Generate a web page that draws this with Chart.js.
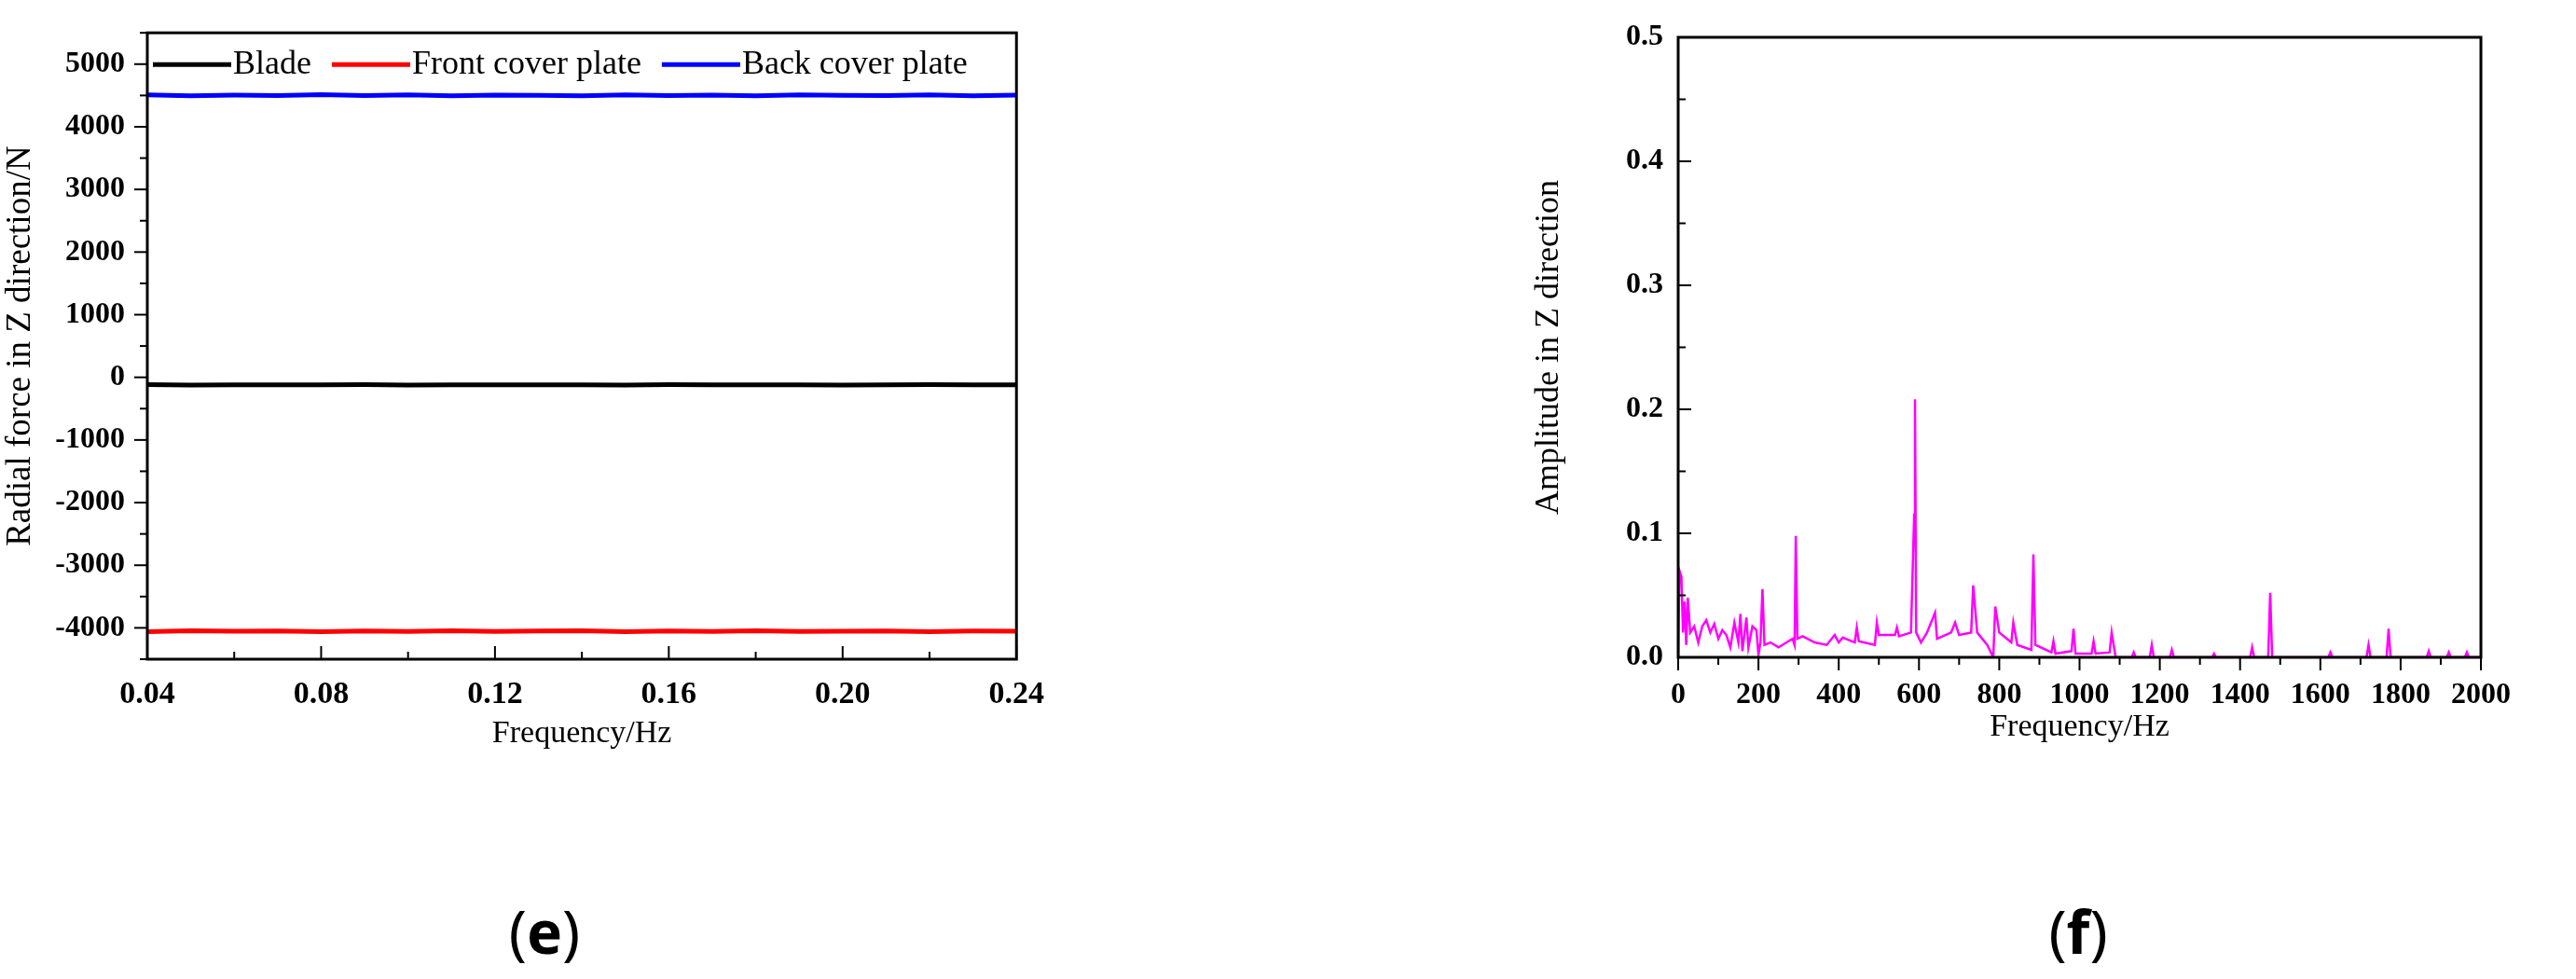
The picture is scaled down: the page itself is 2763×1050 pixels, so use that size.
<!DOCTYPE html>
<html>
<head>
<meta charset="utf-8">
<script src="https://cdn.jsdelivr.net/npm/chart.js@4.4.0/dist/chart.umd.min.js"></script>
<style>
  body { margin: 0; background: #fff; width: 2763px; height: 1050px; position: relative; overflow: hidden; }
  .box { position: absolute; }
  .tag { position: absolute; font-family: "Noto Sans", sans-serif; font-size: 64px; color: #000; transform: translateX(-50%); }
  .tag b { font-weight: 700; }
</style>
</head>
<body>
<div class="box" style="left:0;top:0;width:1130px;height:811px"><canvas id="forceChart"></canvas></div>
<div class="box" style="left:1640px;top:0;width:1100px;height:800px"><canvas id="ampChart"></canvas></div>
<div class="tag" style="left:584px;top:955px">(<b>e</b>)</div>
<div class="tag" style="left:2229px;top:955px">(<b>f</b>)</div>
<script>
// (e) radial force, time axis
const timeX = [0.04, 0.05, 0.06, 0.07, 0.08, 0.09, 0.10, 0.11, 0.12, 0.13, 0.14, 0.15, 0.16, 0.17, 0.18, 0.19, 0.20, 0.21, 0.22, 0.23, 0.24];
const bladeForce = [-118, -122, -120, -119, -121, -118, -122, -120, -121, -119, -120, -122, -118, -121, -120, -119, -122, -120, -118, -121, -120];
const frontForce = [-4060, -4045, -4055, -4050, -4062, -4048, -4057, -4046, -4058, -4051, -4047, -4060, -4049, -4056, -4045, -4059, -4052, -4048, -4061, -4050, -4054];
const backForce = [4510, 4495, 4505, 4500, 4512, 4497, 4508, 4494, 4506, 4501, 4496, 4511, 4499, 4507, 4493, 4509, 4502, 4498, 4510, 4496, 4504];
const forceTicks = [-4000, -3000, -2000, -1000, 0, 1000, 2000, 3000, 4000, 5000];

// (f) amplitude spectrum
const freqHz = [0, 3, 8, 12, 16, 20, 24, 30, 40, 50, 60, 70, 80, 90, 100, 110, 120, 130, 140, 150, 155, 160, 170, 175, 185, 195, 200, 205, 210, 215, 230, 250, 270, 285, 290, 293, 297, 310, 340, 370, 390, 400, 410, 440, 445, 450, 490, 495, 500, 540, 545, 550, 580, 588, 590, 593, 605, 620, 640, 645, 680, 690, 700, 730, 735, 745, 770, 785, 790, 800, 830, 835, 845, 880, 885, 890, 930, 935, 940, 980, 985, 990, 1030, 1035, 1040, 1075, 1080, 1090, 1130, 1135, 1140, 1175, 1180, 1185, 1225, 1230, 1235, 1330, 1335, 1340, 1425, 1430, 1435, 1470, 1475, 1480, 1620, 1625, 1630, 1715, 1720, 1725, 1765, 1770, 1775, 1865, 1870, 1875, 1915, 1920, 1925, 1960, 1965, 1970, 2000];
const ampZ = [0, 0.07, 0.065, 0.02, 0.045, 0.01, 0.048, 0.02, 0.025, 0.012, 0.025, 0.03, 0.02, 0.027, 0.015, 0.022, 0.018, 0.008, 0.028, 0.012, 0.035, 0.005, 0.032, 0.008, 0.025, 0.022, 0.002, 0.012, 0.055, 0.01, 0.012, 0.008, 0.012, 0.015, 0.01, 0.098, 0.015, 0.017, 0.012, 0.01, 0.018, 0.012, 0.016, 0.012, 0.024, 0.013, 0.01, 0.028, 0.018, 0.018, 0.024, 0.017, 0.02, 0.115, 0.208, 0.02, 0.012, 0.02, 0.036, 0.015, 0.02, 0.028, 0.018, 0.02, 0.058, 0.02, 0.01, 0, 0.041, 0.02, 0.012, 0.028, 0.01, 0.006, 0.083, 0.01, 0.004, 0.013, 0.003, 0.005, 0.023, 0.003, 0.003, 0.013, 0.003, 0.004, 0.02, 0, 0, 0.004, 0, 0, 0.01, 0, 0, 0.006, 0, 0, 0.003, 0, 0, 0.008, 0, 0, 0.052, 0, 0, 0.004, 0, 0, 0.01, 0, 0, 0.023, 0, 0, 0.005, 0, 0, 0.004, 0, 0, 0.004, 0, 0];

const serif = '"Liberation Serif", "Times New Roman", serif';

function pts(xs, ys) { return xs.map((x, i) => ({ x: x, y: ys[i] })); }

// box frame + tick marks drawn from the scales
const frameTicks = {
  id: 'frameTicks',
  afterDraw(chart, args, opts) {
    const ctx = chart.ctx, a = chart.chartArea;
    const xs = chart.scales.x, ys = chart.scales.y;
    ctx.save();
    ctx.strokeStyle = '#000';
    ctx.lineWidth = 2;
    const xdir = opts.xIn ? -1 : 1;
    for (let v = xs.min; v <= xs.max + 1e-9; v += opts.xMinor) {
      const major = Math.abs(Math.round((v - xs.min) / opts.xMinor) % opts.xEvery) === 0;
      const p = xs.getPixelForValue(v);
      ctx.beginPath();
      ctx.moveTo(p, a.bottom);
      ctx.lineTo(p, a.bottom + xdir * (major ? 14 : 8));
      ctx.stroke();
    }
    const ydir = opts.yIn ? 1 : -1;
    for (let v = ys.min; v <= ys.max + 1e-9; v += opts.yMinor) {
      const major = Math.abs(Math.round((v - opts.yBase) / opts.yMinor)) % opts.yEvery === 0;
      const p = ys.getPixelForValue(v);
      ctx.beginPath();
      ctx.moveTo(a.left, p);
      ctx.lineTo(a.left + ydir * (major ? 14 : 8), p);
      ctx.stroke();
    }
    ctx.lineWidth = 3;
    ctx.strokeRect(a.left, a.top, a.right - a.left, a.bottom - a.top);
    ctx.restore();
  }
};

// legend inside the plot box
const innerLegend = {
  id: 'innerLegend',
  afterDraw(chart, args, opts) {
    if (!opts.show) return;
    const ctx = chart.ctx, a = chart.chartArea;
    ctx.save();
    ctx.font = '36px ' + serif;
    ctx.textBaseline = 'middle';
    let x = a.left + 6;
    const y = a.top + 34;
    chart.data.datasets.forEach(ds => {
      ctx.strokeStyle = ds.borderColor;
      ctx.lineWidth = 5;
      ctx.beginPath();
      ctx.moveTo(x, y);
      ctx.lineTo(x + 84, y);
      ctx.stroke();
      ctx.fillStyle = '#000';
      ctx.fillText(ds.label, x + 86, y);
      x += 86 + ctx.measureText(ds.label).width + 22;
    });
    ctx.restore();
  }
};

Chart.register(frameTicks, innerLegend);

function axisFont(size, bold) { return { family: serif, size: size, weight: bold ? 'bold' : 'normal' }; }

new Chart(document.getElementById('forceChart'), {
  type: 'line',
  data: {
    datasets: [
      { label: 'Blade', data: pts(timeX, bladeForce), borderColor: '#000000', borderWidth: 5, pointRadius: 0 },
      { label: 'Front cover plate', data: pts(timeX, frontForce), borderColor: '#ff0000', borderWidth: 5, pointRadius: 0 },
      { label: 'Back cover plate', data: pts(timeX, backForce), borderColor: '#0000ff', borderWidth: 5, pointRadius: 0 }
    ]
  },
  options: {
    responsive: true, maintainAspectRatio: false, animation: false,
    layout: { padding: { top: 20, right: 22 } },
    plugins: {
      legend: { display: false }, tooltip: { enabled: false },
      frameTicks: { xIn: true, xMinor: 0.02, xEvery: 2, yIn: false, yMinor: 500, yEvery: 2, yBase: 0 },
      innerLegend: { show: true }
    },
    scales: {
      x: {
        type: 'linear', min: 0.04, max: 0.24,
        afterBuildTicks: s => { s.ticks = [0.04, 0.08, 0.12, 0.16, 0.20, 0.24].map(v => ({ value: v })); },
        afterFit: s => { s.height = 104; },
        grid: { display: false }, border: { display: false },
        ticks: { color: '#000', font: axisFont(34, true), padding: 10, maxRotation: 0, callback: v => v.toFixed(2) },
        title: { display: true, text: 'Frequency/Hz', color: '#000', font: axisFont(34), padding: { top: 6 } }
      },
      y: {
        min: -4500, max: 5500,
        afterBuildTicks: s => { s.ticks = forceTicks.map(v => ({ value: v })); },
        afterFit: s => { s.width = 158; },
        grid: { display: false }, border: { display: false },
        ticks: { color: '#000', font: axisFont(32, true), padding: 16, callback: v => String(v) },
        title: { display: true, text: 'Radial force in Z direction/N', color: '#000', font: axisFont(37), padding: 0 }
      }
    }
  }
});

new Chart(document.getElementById('ampChart'), {
  type: 'line',
  data: {
    datasets: [
      { label: 'Amplitude', data: pts(freqHz, ampZ), borderColor: '#ff00ff', borderWidth: 2.5, pointRadius: 0, tension: 0 }
    ]
  },
  options: {
    responsive: true, maintainAspectRatio: false, animation: false,
    layout: { padding: { top: 40, right: 79 } },
    plugins: {
      legend: { display: false }, tooltip: { enabled: false },
      frameTicks: { xIn: false, xMinor: 100, xEvery: 2, yIn: true, yMinor: 0.05, yEvery: 2, yBase: 0 },
      innerLegend: { show: false }
    },
    scales: {
      x: {
        type: 'linear', min: 0, max: 2000,
        afterBuildTicks: s => { s.ticks = [0, 200, 400, 600, 800, 1000, 1200, 1400, 1600, 1800, 2000].map(v => ({ value: v })); },
        afterFit: s => { s.height = 95; },
        grid: { display: false }, border: { display: false },
        ticks: { color: '#000', font: axisFont(32, true), padding: 14, maxRotation: 0, callback: v => String(v) },
        title: { display: true, text: 'Frequency/Hz', color: '#000', font: axisFont(34), padding: 0 }
      },
      y: {
        min: 0, max: 0.5,
        afterBuildTicks: s => { s.ticks = [0, 0.1, 0.2, 0.3, 0.4, 0.5].map(v => ({ value: v })); },
        afterFit: s => { s.width = 160; },
        grid: { display: false }, border: { display: false },
        ticks: { color: '#000', font: axisFont(32, true), padding: 8, callback: v => v.toFixed(1) },
        title: { display: true, text: 'Amplitude in Z direction', color: '#000', font: axisFont(36), padding: 0 }
      }
    }
  }
});
</script>
</body>
</html>
